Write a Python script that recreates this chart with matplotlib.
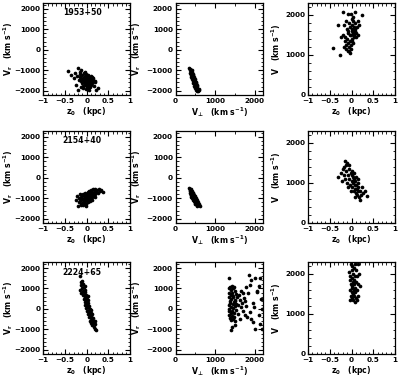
import numpy as np
import matplotlib
matplotlib.use("Agg")
import matplotlib.pyplot as plt
from matplotlib.ticker import MultipleLocator, FixedLocator

plt.rcParams['font.family'] = ['DejaVu Sans']
plt.rcParams['mathtext.default'] = 'regular'

# pulsar names, one per row
names = ['1953+50', '2154+40', '2224+65']

# (z0 [kpc], Vr [km/s]) -- left column
r1_z_vr = [(-0.42, -1050), (-0.35, -1250), (-0.30, -1400), (-0.28, -1150), (-0.25, -1700),
           (-0.22, -1300), (-0.20, -900), (-0.20, -1950), (-0.18, -1500), (-0.16, -1100),
           (-0.15, -1350), (-0.14, -1800), (-0.12, -1000), (-0.12, -1550), (-0.10, -1250),
           (-0.10, -1650), (-0.08, -1400), (-0.08, -1850), (-0.07, -1150), (-0.06, -1500),
           (-0.05, -1300), (-0.05, -1700), (-0.04, -1600), (-0.03, -1450), (-0.02, -1200),
           (-0.02, -1900), (-0.01, -1550), (0.00, -1350), (0.00, -1750), (0.01, -1650),
           (0.02, -1450), (0.02, -1850), (0.03, -1550), (0.04, -1300), (0.05, -1700),
           (0.05, -1950), (0.06, -1500), (0.07, -1400), (0.08, -1600), (0.08, -1800),
           (0.09, -1450), (0.10, -1550), (0.11, -1700), (0.12, -1350), (0.13, -1650),
           (0.14, -1500), (0.15, -1400), (0.17, -1750), (0.18, -1600), (0.20, -1550),
           (0.22, -1950), (0.25, -1850), (-0.15, -1200), (-0.05, -1100), (0.03, -1250),
           (0.10, -1300), (-0.08, -1750), (0.00, -1500), (0.06, -1600), (-0.12, -1450),
           (-0.03, -1650), (0.04, -1400), (-0.10, -1550), (0.01, -1800), (0.12, -1550)]
r2_z_vr = [(-0.25, -1100), (-0.20, -1400), (-0.22, -900), (-0.18, -1200), (-0.17, -1000),
           (-0.15, -800), (-0.14, -1300), (-0.12, -1100), (-0.12, -950), (-0.10, -1250),
           (-0.10, -850), (-0.08, -1050), (-0.08, -1350), (-0.07, -900), (-0.06, -1150),
           (-0.05, -750), (-0.05, -1000), (-0.04, -1250), (-0.03, -850), (-0.02, -1100),
           (-0.02, -950), (-0.01, -1300), (0.00, -800), (0.00, -1050), (0.01, -900),
           (0.02, -1200), (0.02, -700), (0.03, -1000), (0.04, -850), (0.05, -1100),
           (0.05, -650), (0.06, -950), (0.07, -800), (0.08, -1050), (0.08, -700),
           (0.09, -900), (0.10, -600), (0.10, -1000), (0.11, -800), (0.12, -950),
           (0.13, -700), (0.14, -850), (0.15, -550), (0.16, -900), (0.17, -750),
           (0.18, -650), (0.20, -800), (0.20, -550), (0.22, -700), (0.24, -600),
           (0.26, -750), (0.28, -550), (0.30, -650), (0.33, -600), (0.38, -700),
           (-0.15, -1050), (-0.05, -1100), (0.00, -950), (0.05, -850), (-0.09, -800),
           (0.12, -1100), (-0.02, -1400), (0.07, -1150), (-0.13, -1350), (0.18, -950)]
r3_z_vr = [(-0.15, 1600), (-0.14, 1300), (-0.15, 950), (-0.12, 1150), (-0.12, 800),
           (-0.10, 1350), (-0.10, 1000), (-0.09, 700), (-0.08, 1200), (-0.08, 900),
           (-0.07, 500), (-0.06, 1050), (-0.06, 750), (-0.05, 350), (-0.05, 850),
           (-0.04, 600), (-0.03, 950), (-0.03, 200), (-0.02, 450), (-0.02, 700),
           (-0.01, 50), (0.00, 350), (0.00, 600), (0.01, -100), (0.01, 200),
           (0.02, 450), (0.03, -250), (0.03, 100), (0.04, 300), (0.05, -400),
           (0.05, -50), (0.06, 150), (0.07, -300), (0.07, -600), (0.08, 0),
           (0.09, -450), (0.10, -200), (0.10, -700), (0.11, -350), (0.12, -550),
           (0.13, -800), (0.13, -250), (0.14, -600), (0.15, -450), (0.16, -700),
           (0.17, -900), (0.18, -600), (0.19, -750), (0.20, -1000), (0.21, -1050),
           (-0.04, 1100), (0.02, 650), (0.06, -150), (-0.01, 400), (0.09, -50)]

# (Vperp [km/s], Vr [km/s]) -- middle column
r1_vp_vr = [(350, -900), (360, -1000), (370, -950), (380, -1100), (390, -1000),
            (400, -1200), (360, -1150), (410, -1100), (420, -1300), (380, -1250),
            (430, -1200), (400, -1350), (440, -1400), (420, -1450), (450, -1300),
            (460, -1500), (430, -1550), (470, -1450), (480, -1600), (450, -1650),
            (490, -1550), (500, -1700), (470, -1750), (510, -1650), (520, -1800),
            (490, -1850), (530, -1750), (540, -1900), (510, -1950), (550, -1850),
            (560, -1950), (580, -1900), (600, -1950), (570, -2000), (410, -1000),
            (440, -1250), (460, -1350), (500, -1450), (520, -1600), (540, -1700),
            (390, -1150), (430, -1350), (470, -1550), (500, -1800), (530, -2000)]
r2_vp_vr = [(350, -500), (360, -600), (370, -550), (380, -700), (390, -650),
            (400, -550), (360, -750), (410, -800), (420, -700), (380, -850),
            (430, -900), (400, -950), (440, -850), (450, -750), (420, -1000),
            (460, -950), (470, -1050), (440, -1100), (480, -900), (490, -1000),
            (460, -1150), (500, -1100), (510, -1200), (480, -1250), (520, -1050),
            (530, -1150), (500, -1300), (540, -1250), (550, -1100), (560, -1200),
            (520, -1300), (570, -1300), (580, -1350), (600, -1300), (610, -1400),
            (390, -800), (410, -650), (430, -750), (450, -1000), (470, -850),
            (490, -1150), (510, -1000), (530, -1250), (550, -1350), (370, -650),
            (400, -850), (440, -950), (460, -1100), (500, -1200), (540, -1400)]
r3_vp_vr = [(1350, 1500), (1340, 1000), (1360, 800), (1380, 1050), (1400, 950),
            (1420, 1100), (1450, 1000), (1480, 1050), (1500, 900), (1350, 600),
            (1370, 400), (1390, 700), (1410, 500), (1430, 800), (1460, 650),
            (1490, 450), (1520, 750), (1550, 600), (1340, 200), (1360, 0),
            (1380, 300), (1400, 100), (1420, -100), (1440, 250), (1460, 50),
            (1480, -200), (1500, 150), (1530, -50), (1350, -300), (1370, -450),
            (1390, -200), (1410, -550), (1430, -350), (1450, -500), (1480, -400),
            (1510, -600), (1420, -900), (1410, -1050), (1490, -800), (1350, -100),
            (1440, 600), (1470, 350), (1510, 400), (1540, 250), (1570, 200),
            (1600, 700), (1620, 450), (1650, 100), (1680, 300), (1700, -100),
            (1720, 550), (1750, -300), (1780, 150), (1800, -400), (1790, 1050),
            (1850, 1650), (1910, 1400), (1880, 1150), (1830, 800), (1870, -150),
            (1900, -500), (1950, -650), (1960, 300), (2000, -1000), (2020, 1500),
            (2050, 850), (2070, 900), (2100, -300), (2130, -720), (2140, 1520),
            (2160, 500), (2190, -1000), (2180, 0), (2120, 1100), (1650, 900),
            (1580, -250), (1620, -500), (1700, 800), (1760, 400), (1980, 100)]

# (z0 [kpc], V [km/s]) -- right column
r1_z_v = [(-0.20, 2070), (-0.07, 2020), (-0.02, 2020), (0.08, 2060), (0.23, 1990),
          (-0.30, 1750), (-0.42, 1170), (-0.26, 1000), (-0.17, 1750), (-0.12, 1850),
          (-0.10, 1650), (-0.08, 1550), (-0.05, 1800), (-0.03, 1700), (-0.02, 1500),
          (0.00, 1900), (0.01, 1650), (0.02, 1750), (0.03, 1550), (0.04, 1850),
          (0.05, 1450), (0.06, 1700), (0.07, 1600), (0.08, 1800), (0.10, 1550),
          (0.12, 1700), (0.14, 1500), (0.18, 1750), (-0.15, 1450), (-0.14, 1350),
          (-0.12, 1250), (-0.10, 1400), (-0.08, 1300), (-0.06, 1200), (-0.05, 1100),
          (-0.04, 1350), (-0.03, 1050), (-0.02, 1250), (-0.01, 1150), (0.00, 1400),
          (0.02, 1350), (0.04, 1300), (-0.18, 1200), (-0.20, 1500), (-0.25, 1450),
          (-0.09, 1600), (0.03, 1950), (0.09, 1650), (0.11, 1450), (-0.07, 1100),
          (-0.13, 1150), (0.00, 1600), (-0.04, 1500), (0.06, 1500), (0.15, 1850)]
r2_z_v = [(-0.15, 1550), (-0.10, 1500), (-0.05, 1450), (-0.20, 1350), (-0.30, 1150),
          (-0.25, 1250), (-0.18, 1200), (-0.15, 1100), (-0.12, 1300), (-0.10, 1000),
          (-0.08, 1200), (-0.06, 1350), (-0.05, 1100), (-0.03, 950), (-0.02, 1250),
          (0.00, 1050), (0.00, 1300), (0.02, 900), (0.03, 1150), (0.04, 1000),
          (0.05, 800), (0.06, 1100), (0.07, 950), (0.08, 850), (0.09, 1050),
          (0.10, 750), (0.11, 950), (0.12, 850), (0.13, 700), (0.14, 1000),
          (0.15, 800), (0.16, 900), (0.18, 650), (0.20, 575), (0.20, 800),
          (0.22, 700), (0.24, 900), (0.26, 750), (0.30, 800), (0.35, 675),
          (-0.22, 1050), (-0.12, 1450), (-0.07, 900), (0.01, 1200), (0.05, 1250),
          (0.10, 1150), (0.15, 1100), (-0.17, 1400), (-0.02, 800), (0.08, 650)]
r3_z_v = [(-0.02, 2250), (0.02, 2200), (0.08, 2250), (0.16, 2250), (0.00, 2100),
          (0.05, 2150), (-0.05, 2050), (0.10, 2100), (-0.03, 1950), (0.03, 2000),
          (0.12, 1950), (0.18, 2000), (-0.04, 1850), (0.00, 1900), (0.06, 1850),
          (0.10, 1800), (0.15, 1750), (0.20, 1700), (-0.02, 1750), (0.02, 1700),
          (0.08, 1650), (0.12, 1600), (-0.04, 1600), (0.00, 1550), (0.04, 1500),
          (0.06, 1450), (0.10, 1400), (0.14, 1450), (-0.02, 1450), (0.02, 1400),
          (0.04, 1350), (0.08, 1300), (0.00, 1650), (0.05, 1600), (0.09, 1550),
          (0.06, 1750), (-0.03, 1350), (0.12, 1350), (0.03, 1800), (0.07, 1950)]

rows = [(r1_z_vr, r1_vp_vr, r1_z_v),
        (r2_z_vr, r2_vp_vr, r2_z_v),
        (r3_z_vr, r3_vp_vr, r3_z_v)]

fig = plt.figure(figsize=(4.00, 3.79), dpi=100)
lefts = [0.108, 0.439, 0.770]
bottoms = [0.750, 0.412, 0.066]
w, h = 0.2175, 0.243
ylabel_x = [-0.32, -0.37, -0.29]

tick_kw = dict(direction='in', top=True, right=True, labelsize=5.2, pad=2)
label_kw = dict(fontsize=5.6, fontweight='bold')
dot_kw = dict(s=7, c='k', marker='o', linewidths=0)
kpc_ticks = [-1, -0.5, 0, 0.5, 1]
kpc_labels = ['\u22121', '\u22120.5', '0', '0.5', '1']

for i, (a, b, c) in enumerate(rows):
    # left: z0 vs Vr
    ax = fig.add_axes([lefts[0], bottoms[i], w, h])
    x, y = np.array(a).T
    ax.scatter(x, y, **dot_kw)
    ax.set_xlim(-1, 1)
    ax.set_ylim(-2200, 2300)
    ax.xaxis.set_major_locator(FixedLocator(kpc_ticks))
    ax.xaxis.set_minor_locator(MultipleLocator(0.1))
    ax.yaxis.set_major_locator(MultipleLocator(1000))
    ax.yaxis.set_minor_locator(MultipleLocator(200))
    ax.set_xticklabels(kpc_labels)
    ax.set_xlabel('z$_0$   (kpc)', **label_kw)
    ax.set_ylabel('V$_r$   (km s$^{-1}$)', **label_kw)
    ax.yaxis.set_label_coords(ylabel_x[0], 0.5)
    ax.text(-0.1, 1800, names[i], ha='center', va='center', fontsize=5.6, fontweight='bold')

    # middle: Vperp vs Vr
    ax = fig.add_axes([lefts[1], bottoms[i], w, h])
    x, y = np.array(b).T
    ax.scatter(x, y, **dot_kw)
    ax.set_xlim(0, 2200)
    ax.set_ylim(-2200, 2300)
    ax.xaxis.set_major_locator(MultipleLocator(1000))
    ax.xaxis.set_minor_locator(MultipleLocator(500))
    ax.yaxis.set_major_locator(MultipleLocator(1000))
    ax.yaxis.set_minor_locator(MultipleLocator(200))
    ax.set_xlabel('V$_\u22a5$   (km s$^{-1}$)', **label_kw)
    ax.set_ylabel('V$_r$   (km s$^{-1}$)', **label_kw)
    ax.yaxis.set_label_coords(ylabel_x[1], 0.5)

    # right: z0 vs V
    ax = fig.add_axes([lefts[2], bottoms[i], w, h])
    x, y = np.array(c).T
    ax.scatter(x, y, **dot_kw)
    ax.set_xlim(-1, 1)
    ax.set_ylim(0, 2300)
    ax.xaxis.set_major_locator(FixedLocator(kpc_ticks))
    ax.xaxis.set_minor_locator(MultipleLocator(0.1))
    ax.yaxis.set_major_locator(MultipleLocator(1000))
    ax.yaxis.set_minor_locator(MultipleLocator(200))
    ax.set_xticklabels(kpc_labels)
    ax.set_xlabel('z$_0$   (kpc)', **label_kw)
    ax.set_ylabel('V   (km s$^{-1}$)', **label_kw)
    ax.yaxis.set_label_coords(ylabel_x[2], 0.5)

for ax in fig.axes:
    ax.tick_params(which='major', length=3.5, width=0.8, **tick_kw)
    ax.tick_params(which='minor', length=1.8, width=0.6, direction='in', top=True, right=True)
    ax.xaxis.labelpad = 1.0
    for t in ax.get_xticklabels() + ax.get_yticklabels():
        t.set_fontweight('bold')
    for sp in ax.spines.values():
        sp.set_linewidth(0.9)

fig.savefig('out.png', dpi=100)
